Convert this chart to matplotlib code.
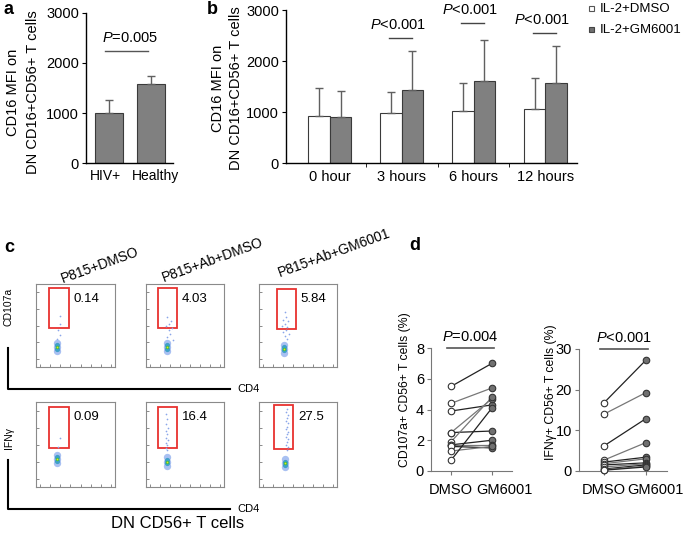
import matplotlib
matplotlib.use("Agg")
import matplotlib.pyplot as plt
import numpy as np
from matplotlib.patches import Rectangle

plt.rcParams['font.family'] = ['Liberation Sans', 'DejaVu Sans']
plt.rcParams['mathtext.fontset'] = 'custom'
plt.rcParams['mathtext.it'] = 'Liberation Sans:italic'
plt.rcParams['mathtext.rm'] = 'Liberation Sans'

# ---- data ----
# panel a
a_groups = ['HIV+', 'Healthy']
a_means = [1010, 1580]
a_err = [250, 170]

# panel b
b_times = ['0 hour', '3 hours', '6 hours', '12 hours']
b_dmso = [930, 980, 1020, 1060]
b_dmso_err = [540, 410, 540, 610]
b_gm = [900, 1440, 1610, 1560]
b_gm_err = [520, 760, 810, 730]
b_pvals = [None, 'P<0.001', 'P<0.001', 'P<0.001']
b_pline = [None, 2450, 2745, 2550]

# panel c (flow plots), gate percentages
c_titles = ['P815+DMSO', 'P815+Ab+DMSO', 'P815+Ab+GM6001']
c_cd107a = ['0.14', '4.03', '5.84']
c_ifng = ['0.09', '16.4', '27.5']
# sparse events above the cluster (x rel, y rel) per plot
c_events_r1 = [
    [(0.30, 0.62), (0.31, 0.52), (0.28, 0.44), (0.30, 0.38), (0.26, 0.34)],
    [(0.27, 0.60), (0.32, 0.56), (0.30, 0.52), (0.26, 0.50), (0.33, 0.47), (0.29, 0.44),
     (0.31, 0.40), (0.27, 0.36), (0.34, 0.33)],
    [(0.33, 0.66), (0.35, 0.60), (0.31, 0.57), (0.37, 0.55), (0.33, 0.52), (0.30, 0.50),
     (0.36, 0.48), (0.34, 0.45), (0.31, 0.42), (0.38, 0.40), (0.33, 0.37), (0.36, 0.34)],
]
c_events_r2 = [
    [(0.30, 0.58), (0.28, 0.47)],
    [(0.26, 0.86), (0.27, 0.80), (0.25, 0.74), (0.28, 0.70), (0.26, 0.66), (0.27, 0.62),
     (0.25, 0.58), (0.28, 0.55), (0.26, 0.52), (0.27, 0.49), (0.25, 0.46), (0.27, 0.44)],
    [(0.36, 0.92), (0.35, 0.88), (0.37, 0.85), (0.36, 0.81), (0.35, 0.78), (0.37, 0.75),
     (0.36, 0.71), (0.35, 0.68), (0.37, 0.65), (0.36, 0.62), (0.35, 0.59), (0.37, 0.56),
     (0.36, 0.53), (0.35, 0.50), (0.37, 0.47), (0.36, 0.44)],
]

# panel d
d_cd107a_dmso = [5.5, 4.4, 3.9, 2.5, 2.5, 1.9, 1.7, 1.7, 1.6, 1.3, 0.7]
d_cd107a_gm = [7.0, 5.4, 4.3, 4.7, 2.6, 4.8, 2.0, 1.7, 1.5, 1.6, 4.1]
d_ifng_dmso = [16.8, 14.0, 6.2, 2.7, 2.2, 1.8, 1.5, 1.0, 0.5, 0.3, 0.2]
d_ifng_gm = [27.3, 19.3, 12.9, 7.0, 3.4, 3.0, 2.0, 1.8, 1.5, 1.2, 1.0]

W, H = 685, 536
fig = plt.figure(figsize=(6.85, 5.36), dpi=100)


def box(x0, y0, x1, y1):
    return [x0 / W, 1 - y1 / H, (x1 - x0) / W, (y1 - y0) / H]


ov = fig.add_axes([0, 0, 1, 1], zorder=-1)
ov.set_xlim(0, W)
ov.set_ylim(H, 0)
ov.axis('off')


def style_bar_axis(ax):
    for s in ['top', 'right']:
        ax.spines[s].set_visible(False)
    ax.spines['left'].set_linewidth(1.0)
    ax.spines['bottom'].set_linewidth(1.0)
    ax.tick_params(axis='y', length=3, labelsize=10.5, pad=2)
    ax.tick_params(axis='x', length=0, labelsize=10.5, pad=5)


# ---- panel a ----
ax = fig.add_axes(box(86, 13, 173, 163))
xa = np.arange(len(a_groups))
ax.bar(xa, a_means, width=0.67, color='#808080', edgecolor='#3a3a3a', linewidth=0.8)
ax.errorbar(xa, a_means, yerr=[np.zeros(2), a_err], fmt='none', ecolor='#606060',
            elinewidth=1, capsize=3)
ax.set_xlim(-0.55, 1.52)
ax.set_ylim(0, 3000)
ax.set_yticks([0, 1000, 2000, 3000])
ax.set_xticks(xa)
ax.set_xticklabels([])
style_bar_axis(ax)
tr = ax.get_xaxis_transform()
for xi, lab, dx in zip(xa, a_groups, [-0.08, 0.1]):
    ax.text(xi + dx, -0.04, lab, transform=tr, ha='center', va='top', fontsize=10)
ax.plot([-0.1, 0.93], [2240, 2240], color='#555555', lw=1)
ax.text(0.5, 2360, r'$P$=0.005', ha='center', va='bottom', fontsize=10.5)
ov.text(13, 92, 'CD16 MFI on', fontsize=10.5, rotation=90, ha='center', va='center')
ov.text(33, 92, 'DN CD16+CD56+ T cells', fontsize=10.5, rotation=90, ha='center', va='center')

# ---- panel b ----
ax = fig.add_axes(box(286, 10, 577, 163))
xb = np.arange(len(b_times))
bw = 0.3
ax.bar(xb - bw / 2, b_dmso, width=bw, color='white', edgecolor='#3a3a3a', linewidth=0.8)
ax.bar(xb + bw / 2, b_gm, width=bw, color='#808080', edgecolor='#3a3a3a', linewidth=0.8)
ax.errorbar(xb - bw / 2, b_dmso, yerr=[np.zeros(4), b_dmso_err], fmt='none',
            ecolor='#606060', elinewidth=1, capsize=3)
ax.errorbar(xb + bw / 2, b_gm, yerr=[np.zeros(4), b_gm_err], fmt='none',
            ecolor='#606060', elinewidth=1, capsize=3)
ax.set_xlim(-0.61, 3.44)
ax.set_ylim(0, 3000)
ax.set_yticks([0, 1000, 2000, 3000])
ax.set_xticks(xb)
ax.set_xticklabels(b_times)
style_bar_axis(ax)
ax.set_xticks([0.5, 1.5, 2.5], minor=True)
ax.tick_params(axis='x', which='minor', length=3)
for i, (p, yl) in enumerate(zip(b_pvals, b_pline)):
    if p is None:
        continue
    ax.plot([i - 0.17, i + 0.15], [yl, yl], color='#444444', lw=1)
    ax.text(i - 0.05, yl + 110, r'$P$<0.001', ha='center', va='bottom', fontsize=10.5)
ov.text(218, 88, 'CD16 MFI on', fontsize=10.5, rotation=90, ha='center', va='center')
ov.text(236, 88, 'DN CD16+CD56+ T cells', fontsize=10.5, rotation=90, ha='center', va='center')

# legend
ov.add_patch(Rectangle((589, 6), 5, 5, facecolor='white', edgecolor='#555555', lw=0.8))
ov.add_patch(Rectangle((589, 27), 5, 5, facecolor='#707070', edgecolor='#444444', lw=0.8))
ov.text(600, 9, 'IL-2+DMSO', fontsize=9.5, va='center')
ov.text(600, 30, 'IL-2+GM6001', fontsize=9.5, va='center')

# ---- panel c ----
cols = [(36, 115), (146, 224), (259, 337)]
rows = [(284, 367), (402, 487)]
gates_r1 = [(0.16, 0.42, 0.47, 0.95), (0.15, 0.40, 0.47, 0.95), (0.23, 0.47, 0.46, 0.94)]
gates_r2 = [(0.16, 0.42, 0.46, 0.94), (0.15, 0.40, 0.46, 0.94), (0.19, 0.44, 0.45, 0.97)]
cluster_r1 = [(0.27, 0.24), (0.27, 0.24), (0.32, 0.22)]
cluster_r2 = [(0.27, 0.33), (0.27, 0.30), (0.33, 0.28)]

for r, (y0, y1) in enumerate(rows):
    gates = gates_r1 if r == 0 else gates_r2
    clus = cluster_r1 if r == 0 else cluster_r2
    evs = c_events_r1 if r == 0 else c_events_r2
    nums = c_cd107a if r == 0 else c_ifng
    for c, (x0, x1) in enumerate(cols):
        fa = fig.add_axes(box(x0, y0, x1, y1))
        fa.set_xlim(0, 1)
        fa.set_ylim(0, 1)
        for s in fa.spines.values():
            s.set_color('#8a8a8a')
            s.set_linewidth(0.8)
        fa.set_xticks(np.linspace(0.05, 0.95, 8))
        fa.set_yticks(np.linspace(0.1, 0.9, 5))
        fa.tick_params(length=2, direction='in', color='#777777',
                       labelbottom=False, labelleft=False, width=0.6)
        gx0, gx1, gy0, gy1 = gates[c]
        fa.add_patch(Rectangle((gx0, gy0), gx1 - gx0, gy1 - gy0, fill=False,
                               edgecolor='#e8312f', lw=1.3))
        ex = [e[0] for e in evs[c]]
        ey = [e[1] for e in evs[c]]
        fa.scatter(ex, ey, s=1.5, color='#8aa6ea', lw=0)
        cx, cy = clus[c]
        fa.scatter([cx, cx, cx], [cy - 0.05, cy, cy + 0.05], s=28, color='#a8c0f2', lw=0)
        fa.scatter([cx, cx], [cy - 0.02, cy + 0.02], s=14, color='#3fa0c8', lw=0)
        fa.scatter([cx], [cy], s=6, color='#40c040', lw=0)
        fa.scatter([cx], [cy], s=1.5, color='#e8e020', lw=0)
        fa.text(gx1 + 0.06, 0.82, nums[c], fontsize=9.5, va='center')

# big CD4 axes lines
ov.plot([8, 8, 230], [348, 389, 389], color='black', lw=1.5)
ov.plot([8, 8, 230], [460, 509, 509], color='black', lw=1.5)
ov.text(237, 389, 'CD4', fontsize=8, va='center')
ov.text(237, 509, 'CD4', fontsize=8, va='center')
ov.text(9, 307, 'CD107a', fontsize=7.5, rotation=90, ha='center', va='center')
ov.text(9, 438, 'IFNγ', fontsize=7.5, rotation=90, ha='center', va='center')
for t, (tx, ty) in zip(c_titles, [(100, 265), (213, 260), (334, 253)]):
    ov.text(tx, ty, t, fontsize=10, rotation=20, ha='center', va='center',
            rotation_mode='anchor')
ov.text(178, 524, 'DN CD56+ T cells', fontsize=12, ha='center', va='center')


# ---- panel d ----
def paired(ax, dm, gm, ymax, ticks, ptext, lab_shift):
    for i, (u, v) in enumerate(zip(dm, gm)):
        lc = '#222222' if i % 2 == 0 else '#777777'
        ax.plot([0, 1], [u, v], color=lc, lw=0.9, zorder=1)
    ax.scatter(np.zeros(len(dm)), dm, s=22, facecolor='white', edgecolor='#333333',
               lw=0.8, zorder=3, clip_on=False)
    ax.scatter(np.ones(len(gm)), gm, s=22, facecolor='#707070', edgecolor='#333333',
               lw=0.8, zorder=3, clip_on=False)
    ax.set_ylim(0, ymax)
    ax.set_yticks(ticks)
    ax.set_xticks([0, 1])
    ax.set_xticklabels([])
    for s in ['top', 'right']:
        ax.spines[s].set_visible(False)
    for s in ['left', 'bottom']:
        ax.spines[s].set_color('#777777')
    ax.tick_params(axis='y', length=3, labelsize=10.5, pad=2, color='#777777')
    ax.tick_params(axis='x', length=3, color='#777777')
    tr = ax.get_xaxis_transform()
    ax.text(0, -0.1, 'DMSO', transform=tr, ha='center', va='top', fontsize=10.5)
    ax.text(1 + lab_shift, -0.1, 'GM6001', transform=tr, ha='center', va='top',
            fontsize=10.5)
    ax.plot([-0.1, 1.05], [ymax, ymax], color='#555555', lw=1.2, clip_on=False)
    ax.text(0.47, ymax * 1.03, ptext, ha='center', va='bottom', fontsize=10.5)


ax = fig.add_axes(box(431, 348, 512, 471))
ax.set_xlim(-0.49, 1.49)
paired(ax, d_cd107a_dmso, d_cd107a_gm, 8, [0, 2, 4, 6, 8], r'$P$=0.004', 0.3)
ax = fig.add_axes(box(579, 349, 667, 471))
ax.set_xlim(-0.6, 1.5)
paired(ax, d_ifng_dmso, d_ifng_gm, 30, [0, 10, 20, 30], r'$P$<0.001', 0.22)
ov.text(405, 390, 'CD107a+ CD56+ T cells (%)', fontsize=8.8, rotation=90,
        ha='center', va='center')
ov.text(551, 392, 'IFNγ+ CD56+ T cells (%)', fontsize=8.8, rotation=90,
        ha='center', va='center')

# panel letters
for lab, (lx, ly) in zip('abcd', [(4, 10), (207, 10), (4, 248), (409, 245)]):
    ov.text(lx, ly, lab, fontsize=13, fontweight='bold', va='center')

fig.savefig('out.png', dpi=100)
